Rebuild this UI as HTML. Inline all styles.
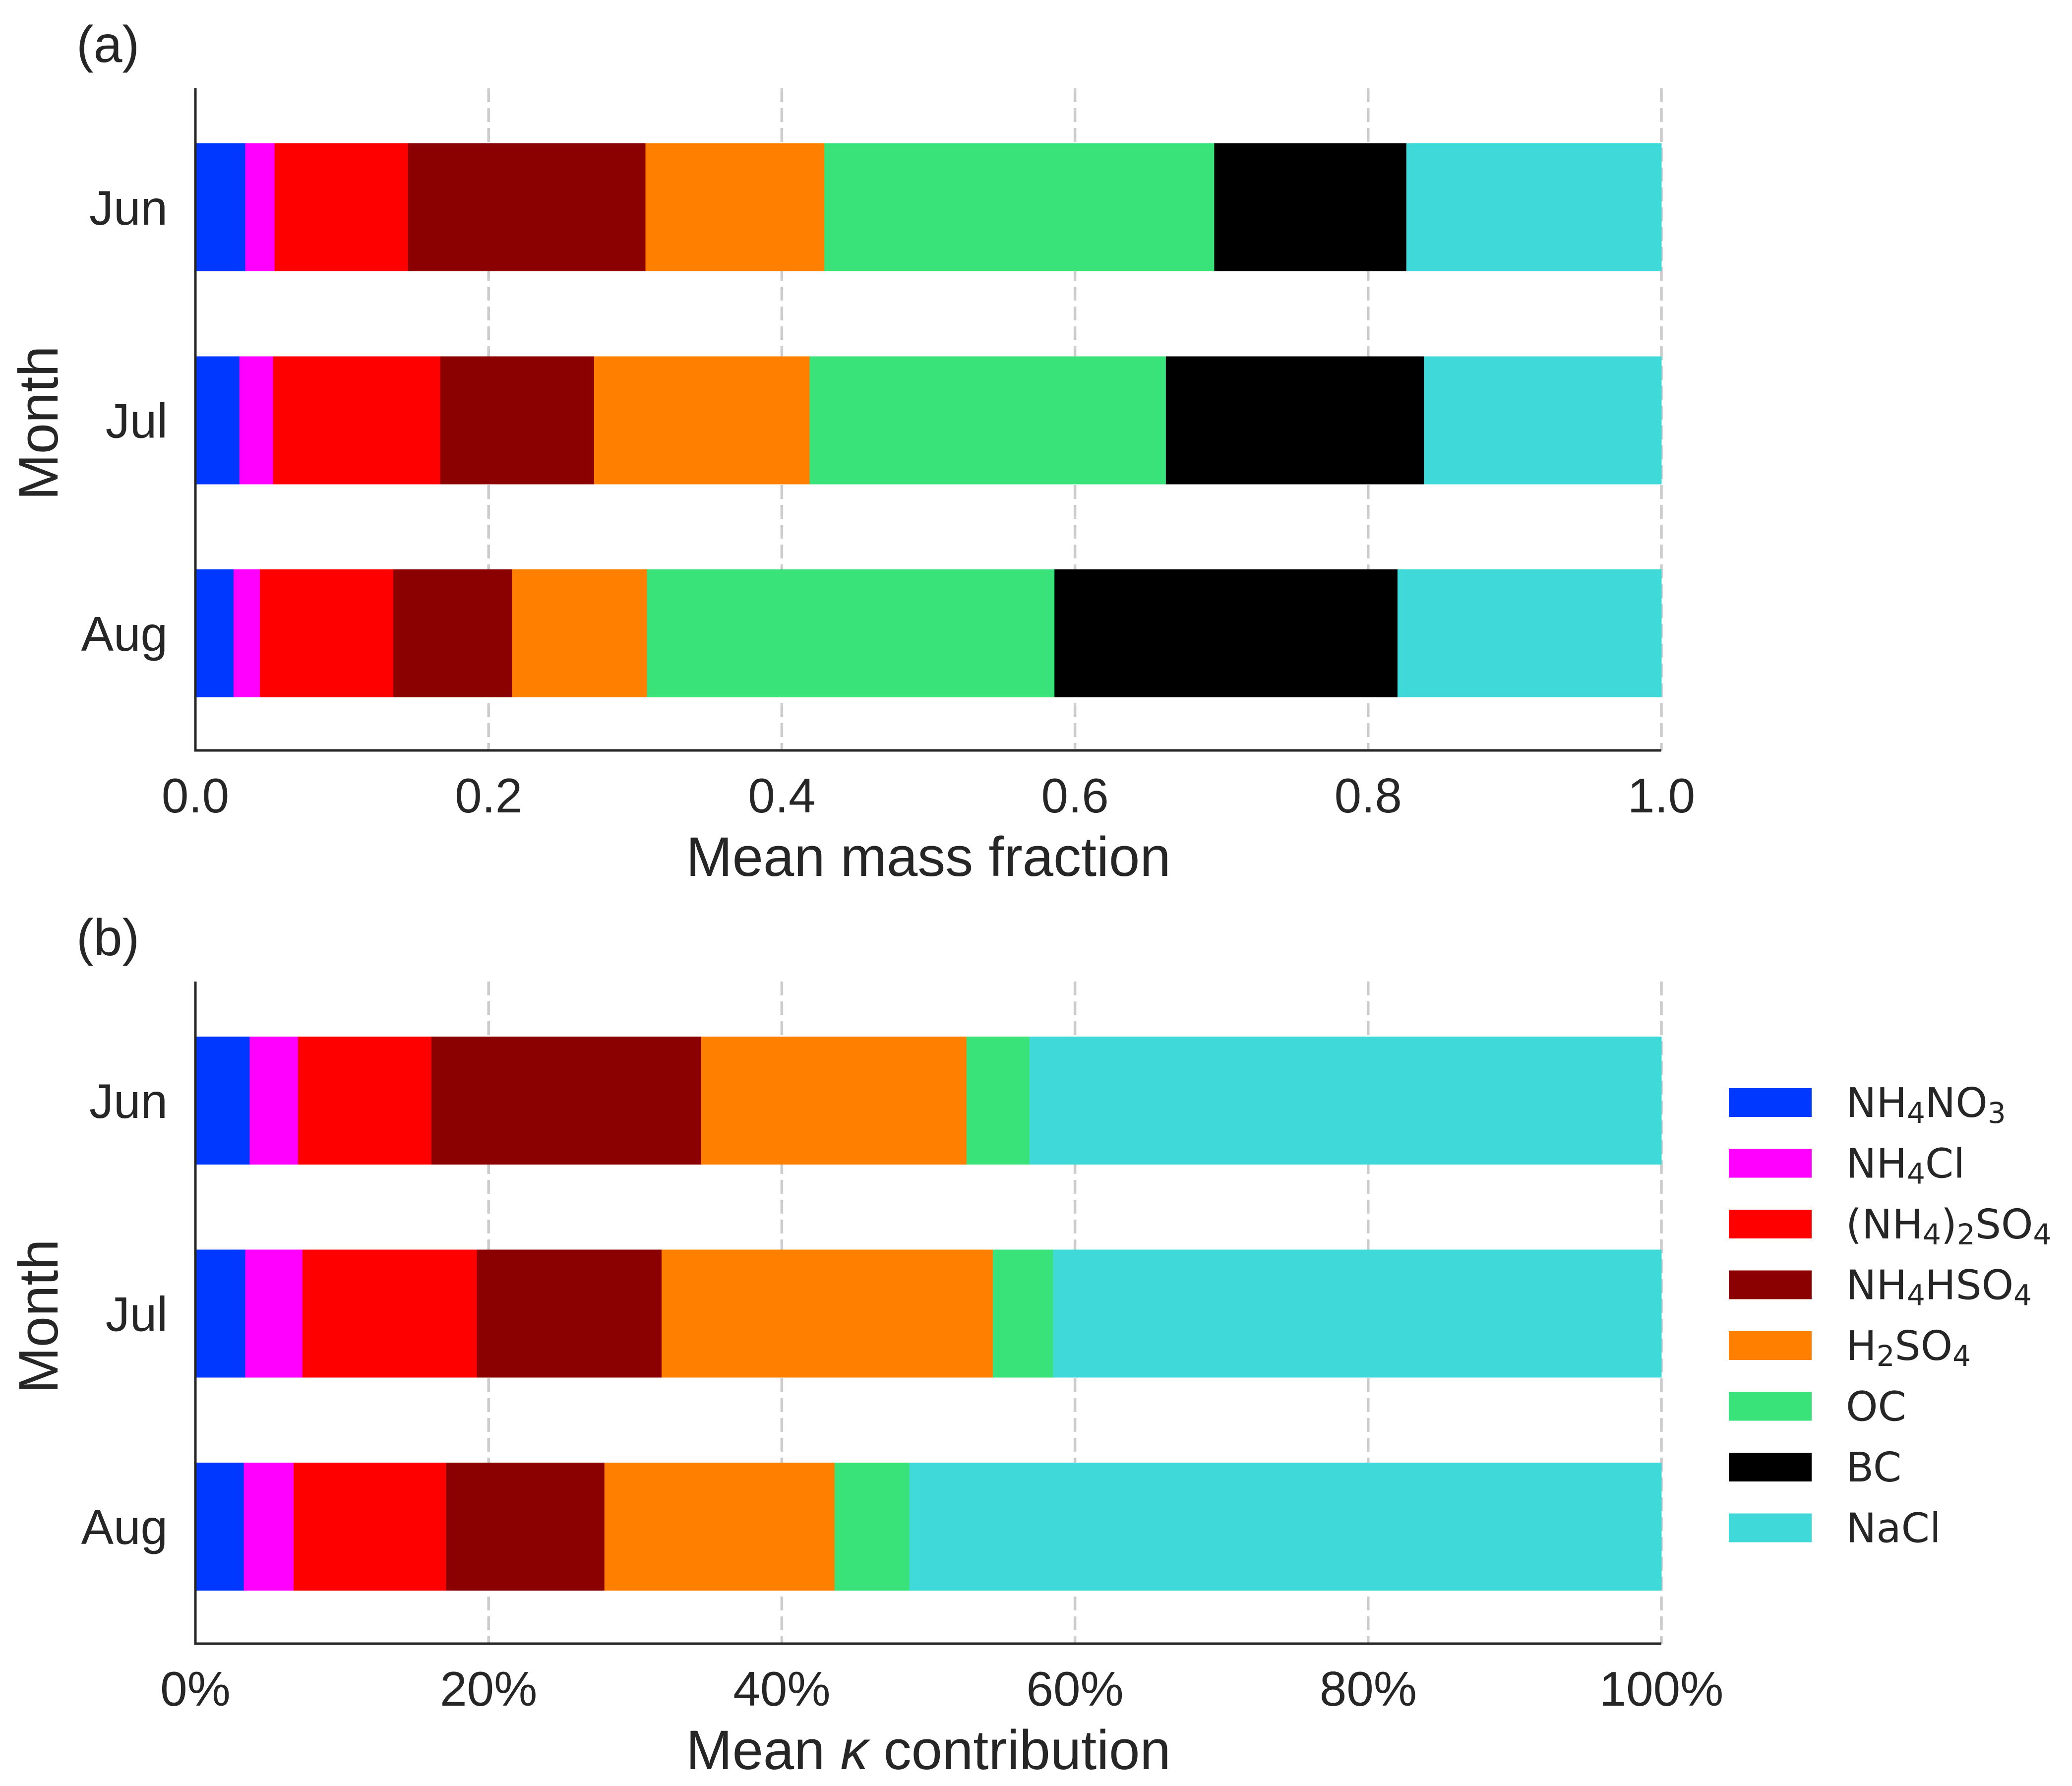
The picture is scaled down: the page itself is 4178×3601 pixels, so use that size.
<!DOCTYPE html>
<html><head><meta charset="utf-8"><style>
html,body{margin:0;padding:0;background:#fff;}
svg{display:block;font-family:"Liberation Sans",Arial,sans-serif;}
</style></head><body>
<svg id="chart" width="4178" height="3601" viewBox="0 0 4178 3601" xmlns="http://www.w3.org/2000/svg"></svg>
<script>
const months = ["Jun","Jul","Aug"];
const species = ["NH4NO3","NH4Cl","(NH4)2SO4","NH4HSO4","H2SO4","OC","BC","NaCl"];
const colors = ["#0038ff","#ff00ff","#ff0000","#8b0000","#ff8000","#3ae27a","#000000","#3fd9d9"];
// panel (a) mean mass fraction, per month, per species
const massJun = [0.034,0.020,0.091,0.162,0.122,0.266,0.131,0.174];
const massJul = [0.030,0.023,0.114,0.105,0.147,0.243,0.176,0.162];
const massAug = [0.026,0.018,0.091,0.081,0.092,0.278,0.234,0.180];
// panel (b) mean kappa contribution
const kapJun = [0.037,0.033,0.091,0.184,0.181,0.043,0,0.431];
const kapJul = [0.034,0.039,0.119,0.126,0.226,0.041,0,0.415];
const kapAug = [0.033,0.034,0.104,0.108,0.157,0.051,0,0.513];
const ticksA = ["0.0","0.2","0.4","0.6","0.8","1.0"];
const ticksB = ["0%","20%","40%","60%","80%","100%"];
const tickVals = [0,0.2,0.4,0.6,0.8,1.0];

const NS="http://www.w3.org/2000/svg";
const svg=document.getElementById('chart');
function mk(tag,attrs,parent,text){const e=document.createElementNS(NS,tag);for(const k in attrs)e.setAttribute(k,attrs[k]);if(text!==undefined)e.textContent=text;(parent||svg).appendChild(e);return e;}

function panel(off, data, ticks, label, xlabelParts, name){
  const g=mk('g',{});
  
  
  const x0=394,x1=3350,top=178+off,bot=1513+off;
  const xs=v=>x0+v*(x1-x0);
  const yc=i=>418+off+i*429.5;
  const bh=258;
  tickVals.forEach((v,i)=>{
    if(v>0){const l=mk('line',{x1:xs(v),x2:xs(v),y1:top,y2:bot,stroke:'#cccccc','stroke-width':5.5,'stroke-dasharray':'28,12'},g);
    
    }
    const t=mk('text',{x:xs(v),y:1638+off,'font-size':98,fill:'#262626','text-anchor':'middle'},g,ticks[i]);
    
    
  });
  data.forEach((row,i)=>{
    let acc=0;
    row.forEach((v,j)=>{
      if(v>0){const r=mk('rect',{x:xs(acc),y:yc(i)-bh/2,width:xs(acc+v)-xs(acc)+0.5,height:bh,fill:colors[j]},g);
      
      }
      acc+=v;
    });
    const t=mk('text',{x:338,y:yc(i)+35,'font-size':98,fill:'#262626','text-anchor':'end'},g,months[i]);
    
    
  });
  const ax=mk('path',{d:`M${x0} ${top} V${bot} H${x1}`,fill:'none',stroke:'#262626','stroke-width':5},g);
  
  
  const pl=mk('text',{x:154,y:125+off,'font-size':104,fill:'#262626'},g,label);
  
  
  const yl=mk('text',{x:0,y:0,'font-size':112,fill:'#262626','text-anchor':'middle',transform:`translate(116 ${853+off}) rotate(-90)`},g,'Month');
  
  
  const xl=mk('text',{x:(x0+x1)/2,y:1766+off,'font-size':112,fill:'#262626','text-anchor':'middle'},g);
  xlabelParts.forEach(p=>{mk('tspan',p.it?{'font-style':'italic'}:{},xl,p.t);});
  
  
}
panel(0,[massJun,massJul,massAug],ticksA,'(a)',[{t:'Mean mass fraction'}],'panel-a');
panel(1801,[kapJun,kapJul,kapAug],ticksB,'(b)',[{t:'Mean '},{t:'κ',it:1},{t:' contribution'}],'panel-b');

// legend
const legendLabels=[
 [['NH',0],['4',1],['NO',0],['3',1]],
 [['NH',0],['4',1],['Cl',0]],
 [['(NH',0],['4',1],[')',0],['2',1],['SO',0],['4',1]],
 [['NH',0],['4',1],['HSO',0],['4',1]],
 [['H',0],['2',1],['SO',0],['4',1]],
 [['OC',0]],[['BC',0]],[['NaCl',0]]
];
const lg=mk('g',{});


legendLabels.forEach((parts,i)=>{
  const y=2194+i*122.5;
  const r=mk('rect',{x:3486,y:y,width:167,height:58,fill:colors[i]},lg);
  
  
  const t=mk('text',{x:3722,y:y+58,'font-size':82,fill:'#262626','font-family':'"DejaVu Sans",sans-serif'},lg);
  parts.forEach(p=>{
    if(p[1]) mk('tspan',{'font-size':58,dy:12},t,p[0]);
    else mk('tspan',{dy:t.childNodes.length&&parts[t.childNodes.length-1][1]?-12:0},t,p[0]);
  });
  
  
});
</script>
</body></html>
